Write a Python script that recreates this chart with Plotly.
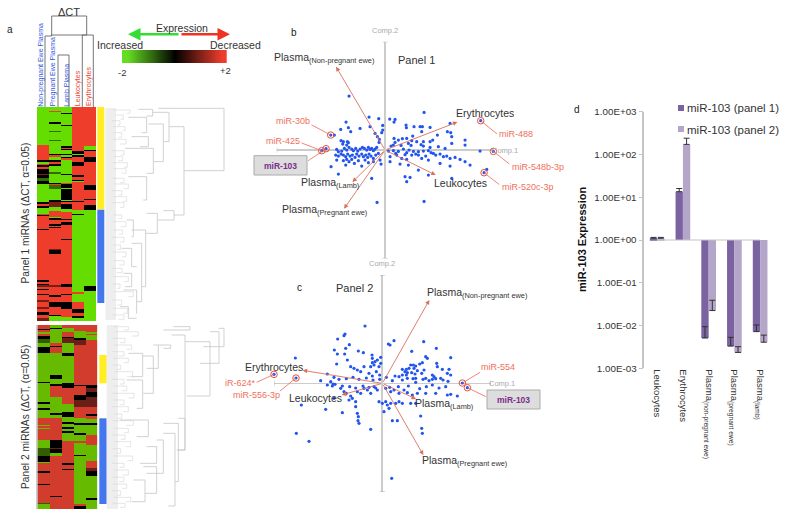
import numpy as np
import plotly.graph_objects as go

W, H = 785, 517

# ---------- data: heat maps (row where a run starts, value) ----------
heat_samples = ['Non-pregnant Ewe Plasma', 'Pregnant Ewe Plasma', 'Lamb Plasma', 'Leukocytes', 'Erythrocytes']
heat1_rows = 642
heat1_cols = [
    [(0,-2),(115,2),(160,0),(164,-2),(170,2),(175,0),(180,2),(186,0),(200,1),(205,0),(214,-1),(222,0),(230,-2),(285,0),(291,2),(296,0),(302,-2),(320,2),(323,0),(326,2),(366,0),(369,2),
     (520,0),(526,2),(530,0),(533,1),(540,2),(545,0),(550,2),(560,0),(564,2),(578,1),(584,2),(600,1),(606,2),(616,0),(624,2),(632,1)],
    [(0,-2),(12,2),(16,-2),(46,0),(50,-2),(72,-1),(74,-2),(80,-1),(82,-2),(92,-1),(94,-2),(100,-1),(102,-2),(140,0),(143,2),(150,-2),(160,0),(166,2),(170,0),(176,-2),(195,-1),(200,-2),(228,0),(232,2),(235,-1),(245,-2),(278,0),(285,1),(300,-2),(312,2),(330,-2),(334,0),(338,2),(352,0),(356,2),(360,0),(364,2),
     (425,1),(430,0),(440,2),(535,1),(540,2),(565,0),(570,2),(585,0),(600,2),(625,0),(628,-2)],
    [(0,-2),(18,0),(22,-2),(54,0),(57,-2),(118,0),(122,2),(126,0),(130,-2),(140,0),(144,-2),(150,0),(154,2),(160,-2),(200,0),(205,-2),(228,2),(232,0),(242,-2),(246,0),(280,-2),(282,0),(286,2),(290,0),(305,-2),(315,2),(335,0),(339,2),(345,0),(355,2),(395,0),(398,2),
     (530,0),(540,2),(560,0),(565,2),(585,0),(605,2),(630,-2)],
    [(0,2),(132,0),(140,-2),(143,0),(150,2),(165,0),(178,2),(205,0),(210,2),(218,0),(222,-2),(226,2),(282,0),(285,2),(310,-2),(320,0),(325,-2),
     (555,2),(560,-2),(585,2),(605,0),(618,2),(628,0),(634,-2)],
    [(0,2),(116,-2),(128,0),(132,2),(150,0),(165,2),(235,0),(248,2),(275,0),(280,2),(295,0),(308,-2),(538,0),(552,-2)],
]
heat2_rows = 553
heat2_cols = [
    [(0,2),(13,0),(16,2),(20,-2),(28,2),(34,0),(43,-1),(55,-2),(67,0),(85,-2),(170,0),(175,-2),(230,0),(237,-2),(250,0),(254,-2),(280,2),(300,-2),(304,2),(310,-2),(314,2),(345,-2),(370,-1),(395,0),(412,-2),(415,2),(440,0),(445,2),(477,0),(482,2),(535,-1),(538,-2)],
    [(0,-2),(8,0),(12,-2),(53,2),(62,0),(67,2),(85,-2),(150,0),(161,-2),(177,0),(183,2),(215,-2),(265,0),(270,-2),(280,2),(330,2),(345,0),(370,1),(374,0),(384,-2),(393,2),(513,0),(518,2)],
    [(0,2),(10,-2),(20,2),(36,0),(40,1),(53,-2),(85,0),(92,-2),(175,0),(188,2),(215,-2),(217,2),(237,-2),(262,0),(275,-2),(292,0),(298,-2),(308,0),(312,-2),(320,0),(325,-2),(350,2),(415,0),(420,2),(432,0),(436,2)],
    [(0,2),(17,-2),(40,0),(45,1),(60,2),(180,0),(184,2),(210,0),(225,1),(245,2),(280,-2),(295,0),(300,-2),(325,0),(330,-2),(350,2),(354,-2),(390,0),(395,-2),(538,2),(545,0)],
    [(0,2),(22,-2),(26,2),(30,-2),(45,2),(180,0),(190,1),(200,0),(215,1),(245,2),(268,0),(272,2),(283,-2),(295,0),(300,-2),(330,2),(360,-2),(410,2),(430,1),(440,0),(455,-2),(520,0),(525,-2)],
]
scale_steps = [-2, -1.6, -1.2, -0.8, -0.4, 0, 0.4, 0.8, 1.2, 1.6, 2]

# ---------- data: dendrograms (left top, y top, parent, y bottom, left bottom) ----------
tree1_main = [
    (475,325,672,512,552),(507,380,552,645,522),(458,337,507,425,490),(415,328,458,348,440),(445,372,490,485,460),
    (385,352,440,398,425),(375,445,460,520,440),(395,410,445,440,420),(385,530,440,600,430),(490,632,522,660,472),
    (440,640,472,700,437),(395,690,437,860,425),(395,730,425,905,410),(370,870,410,940,408),(360,920,385,955,410),
    (380,660,400,710,395),(365,745,395,800,410),(370,820,395,860,375),
]
tree1_leaf = [
    (340,330,390,340,380),(345,345,370,358,362),(335,362,360,375,352),(340,380,375,392,368),(338,398,365,412,355),
    (340,418,378,432,360),(335,452,372,465,362),(340,470,368,482,355),(338,488,382,502,372),(340,506,378,520,365),
    (338,535,372,548,360),(342,552,385,566,370),(335,572,366,585,355),(340,590,380,604,368),(338,608,372,622,360),
    (340,645,365,656,355),(338,665,378,680,362),(340,690,368,702,356),(336,712,372,726,360),(340,735,362,748,352),
    (338,756,378,770,366),(342,782,372,795,358),(336,805,366,818,350),(340,830,385,845,372),(338,852,360,865,350),
    (342,875,400,890,385),(336,900,365,915,352),(340,925,382,940,370),(338,945,372,958,355),
]
tree2_main = [
    (655,205,672,260,610),(630,215,657,310,600),(555,245,630,408,560),(490,210,570,200,520),(515,225,555,570,535),
    (475,255,512,265,490),(460,255,475,325,440),(428,288,460,400,430),(535,475,555,570,530),(490,490,535,665,525),
    (490,520,525,738,505),(470,540,490,640,440),(440,560,470,610,420),(430,620,470,700,435),(400,660,435,725,395),
    (360,480,445,530,410),(385,280,428,350,395),(380,360,428,445,410),
]
tree2_leaf = [
    (340,200,385,210,372),(345,215,415,228,395),(338,235,375,248,360),(342,255,395,268,380),(336,275,372,288,355),
    (340,295,385,308,372),(338,315,362,328,350),(342,335,398,350,382),(336,358,372,372,360),(340,378,380,392,366),
    (338,400,402,414,385),(340,420,372,434,360),(336,440,385,455,370),(342,462,365,475,352),(338,482,400,496,378),
    (340,505,385,518,372),(336,525,375,538,362),(342,545,392,560,378),(338,566,362,580,350),(340,588,398,602,382),
    (336,610,372,622,358),(342,630,385,645,368),(338,652,372,665,356),(340,672,380,685,366),(336,692,362,706,350),
    (342,712,392,725,378),(338,730,375,742,360),
]
col_tree = [(45,36,51.7,35,86.7), (58,55,62.7,55,69)]

# ---------- data: biplots ----------
b_load1 = [-147, 217, 152, -98, -123]
b_load2 = [250, 84, -75, -96, -176]
c_load1 = [141, -239, -122, 101, 123]
c_load2 = [250, 39, -35, -47, -215]

b_scores = [
    (-108,162),(-117,84),(-48,99),(-19,94),(14,93),(30,92),(27,84),(63,75),(64,67),(-7,74),(-7,60),(-10,52),(-133,62),(-110,67),(-103,55),
    (-75,65),(-45,70),(-30,50),(-23,40),(-17,32),(-18,23),(117,113),(27,35),(52,34),(65,35),(83,42),(87,70),(105,70),(112,70),(110,55),
    (135,68),(195,80),(187,55),(197,52),(200,40),(157,45),(143,30),(135,25),(115,25),(95,25),(80,28),(70,20),(30,23),(40,30),(25,15),
    (-132,28),(-125,25),(-113,25),(-127,18),(-115,15),(-110,22),(-152,45),(-145,2),(-140,-5),(-130,-3),(-122,5),(-115,0),(-108,8),(-100,3),
    (-95,-2),(-88,5),(-82,-3),(-75,3),(-68,8),(-62,5),(-55,0),(-50,8),(-45,2),(-40,5),(-35,-2),(-30,3),(-25,8),(-148,-15),(-140,-18),
    (-132,-12),(-125,-15),(-118,-20),(-112,-12),(-105,-18),(-98,-15),(-90,-22),(-85,-12),(-78,-18),(-70,-12),(-65,-20),(-58,-15),(-52,-22),
    (-48,-12),(-42,-18),(-35,-25),(-28,-15),(-20,-10),(-15,-30),(-145,-30),(-125,-32),(-115,-28),(-108,-35),(-100,-28),(-92,-40),(-80,-32),
    (-60,-30),(-50,-38),(-35,-35),(-12,-42),(-162,-50),(-140,-72),(-118,-45),(-70,-48),(-40,-85),(-24,-157),(10,-3),(18,12),(25,-2),(32,-10),
    (40,-4),(48,14),(55,3),(60,-14),(65,-8),(72,0),(78,14),(85,-4),(92,-12),(100,-5),(108,16),(115,-3),(122,-18),(130,-2),(138,-8),(145,-10),
    (152,-15),(165,-12),(175,-20),(185,-18),(195,-25),(210,-22),(225,-28),(240,-35),(255,-45),(15,-20),(35,-15),(50,-25),(65,-28),(80,-15),
    (100,-15),(110,-25),(130,-30),(165,-40),(195,-48),(60,-80),(65,-95),(75,-82),(100,-60),(130,-75),(200,-85),(240,15),(285,-3),(117,-154),
    (305,-58),(70,-45),(45,-42),(15,-35),(240,30),(200,20),(160,10),(180,5),(135,8),(115,12),
]
c_scores = [
    (-52,172),(-134,133),(-112,148),(-115,143),(-144,100),(-135,88),(-113,88),(-99,116),(-110,105),(-261,76),(-72,97),(-57,92),(-31,85),
    (-5,78),(18,118),(23,115),(35,128),(124,125),(162,105),(88,96),(130,80),(135,75),(205,77),(163,60),(165,50),(120,62),(93,55),(85,55),
    (100,52),(112,58),(95,45),(105,38),(80,45),(72,42),(60,42),(68,35),(75,32),(88,32),(98,28),(118,30),(125,40),(150,25),(155,20),(180,42),
    (200,42),(195,30),(205,25),(-30,62),(-22,65),(-35,50),(-25,55),(-10,50),(-5,60),(-15,70),(-30,75),(-137,58),(-105,70),(-95,50),(-85,45),
    (-75,40),(-65,35),(-55,50),(-40,30),(-30,22),(-18,35),(-8,25),(-165,28),(-185,8),(-145,18),(-165,-5),(-155,5),(-150,-8),(-148,-2),
    (-142,-3),(-130,12),(-120,-8),(-108,14),(-98,-10),(-88,18),(-80,-14),(-70,12),(-58,-8),(-48,16),(-40,-12),(-28,10),(-20,-14),(-8,12),(-125,-15),
    (-115,-25),(-108,-30),(-95,-38),(-90,-45),(-75,-25),(-65,-30),(-55,-15),(-45,-20),(-35,-30),(-25,-10),(-15,-20),(-170,-78),(-145,-45),
    (-120,-88),(-100,-50),(-80,-55),(-80,-70),(-75,-90),(-72,-100),(-73,-112),(-70,-120),(-243,-65),(-258,-150),(-220,-174),(-35,-138),
    (12,18),(22,-12),(30,8),(38,22),(48,-10),(60,10),(72,25),(78,-8),(92,14),(100,3),(112,-16),(122,12),(132,-10),(140,8),(150,-5),(160,14),(170,-14),
    (182,10),(190,-10),(197,6),(50,20),(60,25),(75,15),(100,15),(130,15),(150,12),(175,15),(10,-15),(25,-25),(35,-20),(50,-30),(65,-20),
    (75,-28),(90,-35),(105,-30),(130,-30),(160,-30),(195,-35),(205,-33),(225,-38),(115,-98),(118,-135),(120,-150),(28,-285),(-10,-55),
    (0,-60),(10,-55),(15,-65),(20,-75),(5,-85),(30,-112),(45,-112),(25,-60),(40,-60),(50,-55),(60,-60),(85,-60),(100,-60),
]
# miRNA: score 1, score 2, far end of the leader line
b_mirs = [(-163,45,-225,78),(-190,-2,-255,23),(-177,4,-235,-35),(287,88,340,45),(325,-4,377,-45),(297,-68,347,-107)]
c_mirs = [(-325,27,-382,1),(-259,16,-312,-27),(240,1,298,36),(255,-13,315,-42)]

# ---------- data: bars ----------
bar_cats = ['Leukocytes', 'Erythrocytes', 'Plasma<sub>(non-pregnant ewe)</sub>', 'Plasma<sub>(pregnant ewe)</sub>', 'Plasma<sub>(lamb)</sub>']
panel1_vals = [1.1, 13.5, 0.0051, 0.0033, 0.0072]
panel1_errs = [0.05, 2.5, 0.0043, 0.0020, 0.0031]
panel2_vals = [1.1, 172, 0.0224, 0.00235, 0.00407]
panel2_errs = [0.05, 68, 0.0166, 0.00085, 0.0019]
bar_ticks = [1000, 100, 10, 1, 0.1, 0.01, 0.001]
bar_tick_text = ['1.00E+03', '1.00E+02', '1.00E+01', '1.00E+00', '1.00E-01', '1.00E-02', '1.00E-03']

# ---------- helpers ----------
annotations, shapes = [], []
layout_axes = {}


def px(x):
    return x / W


def py(y):
    return 1 - y / H


def add_axes(n, x0, x1, y0, y1, xkw=None, ykw=None):
    hidden = dict(visible=False, fixedrange=True)
    suffix = '' if n == 1 else str(n)
    layout_axes['xaxis' + suffix] = dict(domain=[px(x0), px(x1)], anchor='y' + suffix, **{**hidden, **(xkw or {})})
    layout_axes['yaxis' + suffix] = dict(domain=[py(y1), py(y0)], anchor='x' + suffix, **{**hidden, **(ykw or {})})
    return 'x' + suffix, 'y' + suffix


def label(text, x, y, size=10.5, color='#333333', xanchor='left', angle=0, yanchor='middle'):
    annotations.append(dict(text=text, x=px(x), y=py(y), xref='paper', yref='paper', showarrow=False,
                            font=dict(size=size, color=color), xanchor=xanchor, yanchor=yanchor,
                            textangle=angle, borderpad=0, borderwidth=0))


def rect(x0, y0, x1, y1, fill, line=None):
    shapes.append(dict(type='rect', xref='paper', yref='paper', x0=px(x0), x1=px(x1), y0=py(y0), y1=py(y1),
                       fillcolor=fill, line=dict(color=line or fill, width=1 if line else 0), layer='below'))


def expand(runs, n):
    col = np.zeros(n)
    for start, value in runs:
        col[start:] = value
    return col


def bracket_path(brackets):
    xs, ys = [], []
    for xa, ya, xp, yb, xb in brackets:
        xs += [xa, xp, xp, xb, None]
        ys += [ya, ya, yb, yb, None]
    return xs, ys


fig = go.Figure()

# ---------- panel a heat maps ----------
x1, y1 = add_axes(1, 37, 96, 107, 321, ykw=dict(autorange='reversed'))
fig.add_trace(go.Heatmap(z=np.column_stack([expand(c, heat1_rows) for c in heat1_cols]), x=heat_samples,
                         zmin=-2, zmax=2, showscale=False, xaxis=x1, yaxis=y1,
                         colorscale=[[0, '#66dd00'], [0.5, '#000000'], [1, '#ee3d2b']]))
x2, y2 = add_axes(2, 37.5, 97.3, 325, 509.3, ykw=dict(autorange='reversed'))
fig.add_trace(go.Heatmap(z=np.column_stack([expand(c, heat2_rows) for c in heat2_cols]), x=heat_samples,
                         zmin=-2, zmax=2, showscale=False, xaxis=x2, yaxis=y2,
                         colorscale=[[0, '#66bb00'], [0.5, '#000000'], [1, '#d23c2c']]))
rect(36, 325, 38, 509.3, '#cccccc')
rect(97.3, 107, 104.3, 209.3, '#ffee22')
rect(97.3, 209.7, 104.3, 303, '#4477ee')
rect(99.3, 355, 106.7, 383.3, '#ffee22')
rect(99.3, 418.3, 106.7, 504, '#4477ee')

# row dendrograms, in the units of their own axes
rect(105.5, 108, 116, 320, '#eeeeee')
rect(106.7, 325, 118, 509, '#eeeeee')
x3, y3 = add_axes(3, 100, 226.67, 105, 325, xkw=dict(range=[300, 680]), ykw=dict(range=[975, 315]))
for tree, width, color in [(tree1_leaf, 0.6, '#d5d5d5'), (tree1_main, 0.9, '#cccccc')]:
    xs, ys = bracket_path(tree)
    fig.add_trace(go.Scatter(x=xs, y=ys, mode='lines', line=dict(color=color, width=width), xaxis=x3, yaxis=y3))
x4, y4 = add_axes(4, 100, 226.67, 323, 513, xkw=dict(range=[300, 680]), ykw=dict(range=[759, 189]))
for tree, width, color in [(tree2_leaf, 0.6, '#d5d5d5'), (tree2_main, 0.9, '#cccccc')]:
    xs, ys = bracket_path(tree)
    fig.add_trace(go.Scatter(x=xs, y=ys, mode='lines', line=dict(color=color, width=width), xaxis=x4, yaxis=y4))

# column dendrogram
x5, y5 = add_axes(5, 37, 96, 10, 107, xkw=dict(range=[37, 96]), ykw=dict(range=[107, 10]))
col_xs, col_ys = bracket_path(col_tree)
col_xs += [45, 45, None, 58, 58, None, 69, 69, None, 82.3, 82.3, 93.3, 93.3, None, 51.7, 51.7, 86.7, 86.7]
col_ys += [36, 107, None, 55, 107, None, 55, 107, None, 107, 35, 35, 107, None, 36, 16, 16, 35]
fig.add_trace(go.Scatter(x=col_xs, y=col_ys, mode='lines', line=dict(color='#666666', width=0.9), xaxis=x5, yaxis=y5))

label('a', 10, 29, size=10, color='#222222', xanchor='center')
label('ΔCT', 69, 11.7, size=11, xanchor='center')
for name, xc, color in [('Non-pregnant Ewe Plasma', 40.3, '#3355dd'), ('Pregnant Ewe Plasma', 53.3, '#3355dd'),
                        ('Lamb Plasma', 65.7, '#3355dd'), ('Leukocytes', 77.7, '#ee4433'), ('Erythrocytes', 89, '#ee4433')]:
    label(name, xc, 106.5, size=7, color=color, xanchor='center', yanchor='bottom', angle=-90)
label('Panel 1 miRNAs (ΔCT, α=0.05)', 25, 213.5, size=10.2, xanchor='center', angle=-90)
label('Panel 2 miRNAs (ΔCT, (α=0.05)', 25, 417, size=10.2, xanchor='center', angle=-90)

# expression key
x6, y6 = add_axes(6, 122, 226.7, 50, 63.3)
fig.add_trace(go.Heatmap(z=[scale_steps], zmin=-2, zmax=2, zsmooth='best', showscale=False, xaxis=x6, yaxis=y6,
                         colorscale=[[0, '#66dd22'], [0.5, '#000000'], [1, '#ee3d2b']]))
for x_end, tail, color in [(128, 52, '#33dd33'), (230, -50, '#ee3322')]:
    annotations.append(dict(x=px(x_end), y=py(34.3), xref='paper', yref='paper', ax=tail, ay=0, text='',
                            showarrow=True, arrowhead=2, arrowsize=1, arrowwidth=2.5, arrowcolor=color))
label('Expression', 182, 27.5, size=10.5, xanchor='center')
label('Increased', 120, 45, size=10.5, xanchor='center')
label('Decreased', 235, 45, size=10.5, xanchor='center')
label('-2', 121.7, 72.3, size=9.5, xanchor='center')
label('+2', 225, 70, size=9.5, xanchor='center')


# ---------- panels b and c ----------
def biplot(n, x0, y0, scores, load1, load2, mirs):
    xa, ya = add_axes(n, x0, x0 + 216.7, y0, y0 + 216.7,
                      xkw=dict(visible=True, range=[-325, 325], showgrid=False, showticklabels=False, ticks='',
                               zeroline=True, zerolinecolor='#cccccc', zerolinewidth=1.5),
                      ykw=dict(visible=True, range=[-325, 325], showgrid=False, showticklabels=False, ticks='',
                               zeroline=True, zerolinecolor='#cccccc', zerolinewidth=2 if n == 7 else 1.2))
    ends_x = [-325, -325, None, 325, 325, None, -8, 8, None, -8, 8]
    ends_y = [-8, 8, None, -8, 8, None, 325, 325, None, -325, -325]
    fig.add_trace(go.Scatter(x=ends_x, y=ends_y, mode='lines', line=dict(color='#aaaaaa', width=0.8),
                             xaxis=xa, yaxis=ya, cliponaxis=False))
    for a, b in zip(load1, load2):
        annotations.append(dict(x=a, y=b, xref=xa, yref=ya, axref=xa, ayref=ya, ax=0, ay=0, text='', showarrow=True,
                                arrowhead=2, arrowsize=1, arrowwidth=0.9, arrowcolor='#d8705c'))
    for s1, s2, end1, end2 in mirs:
        annotations.append(dict(x=s1, y=s2, xref=xa, yref=ya, axref=xa, ayref=ya, ax=end1, ay=end2, text='',
                                showarrow=True, arrowhead=0, arrowwidth=0.8, arrowcolor='#ee6655'))
    fig.add_trace(go.Scatter(x=[s[0] for s in scores], y=[s[1] for s in scores], mode='markers',
                             marker=dict(size=3.2, color='#2255ee'), xaxis=xa, yaxis=ya, cliponaxis=False))
    fig.add_trace(go.Scatter(x=[m[0] for m in mirs], y=[m[1] for m in mirs], mode='markers',
                             marker=dict(size=3.2, color='#2255ee', line=dict(width=0)), xaxis=xa, yaxis=ya, cliponaxis=False))
    fig.add_trace(go.Scatter(x=[m[0] for m in mirs], y=[m[1] for m in mirs], mode='markers',
                             marker=dict(size=6.5, symbol='circle-open', color='#e8503c', line=dict(width=1, color='#e8503c')),
                             xaxis=xa, yaxis=ya, cliponaxis=False))


biplot(7, 276.7, 41.7, b_scores, b_load1, b_load2, b_mirs)
biplot(8, 274, 275, c_scores, c_load1, c_load2, c_mirs)

mir_red = '#f0705a'
rect(254, 155.7, 307, 175, '#dddddd', '#aaaaaa')
rect(487, 390, 540, 409, '#dddddd', '#aaaaaa')
label('b', 294, 33, size=10, color='#222222', xanchor='center')
label('Panel 1', 397.7, 60, size=11)
label('Plasma<sub>(Non-pregnant ewe)</sub>', 274, 58)
label('Erythrocytes', 456, 113)
label('Leukocytes', 434, 183)
label('Plasma<sub>(Lamb)</sub>', 301, 183)
label('Plasma<sub>(Pregnant ewe)</sub>', 281.7, 210)
label('miR-30b', 276, 121, size=9, color=mir_red)
label('miR-425', 265.7, 141, size=9, color=mir_red)
label('<b>miR-103</b>', 280.5, 165.5, size=8.5, color='#7b2d8b', xanchor='center')
label('miR-488', 499, 133.7, size=9, color=mir_red)
label('miR-548b-3p', 511.7, 166.7, size=9, color=mir_red)
label('miR-520c-3p', 501.7, 187, size=9, color=mir_red)
label('Comp.1', 491.7, 150, size=7.5, color='#aaaaaa')
label('Comp.2', 384.7, 30.7, size=7.5, color='#aaaaaa', xanchor='center')

label('c', 299, 287.7, size=10, color='#222222', xanchor='center')
label('Panel 2', 335.7, 288, size=11)
label('Plasma<sub>(Non-pregnant ewe)</sub>', 427, 293)
label('Erythrocytes', 244.7, 366.7)
label('Leukocytes', 289, 398)
label('Plasma<sub>(Lamb)</sub>', 415, 404)
label('Plasma<sub>(Pregnant ewe)</sub>', 422, 460.7)
label('iR-624*', 225, 383, size=9, color=mir_red)
label('miR-556-3p', 232.7, 395, size=9, color=mir_red)
label('miR-554', 480.7, 367, size=9, color=mir_red)
label('<b>miR-103</b>', 513.5, 400, size=8.5, color='#7b2d8b', xanchor='center')
label('Comp.1', 489, 383, size=7.5, color='#aaaaaa')
label('Comp.2', 382, 263.7, size=7.5, color='#aaaaaa', xanchor='center')

# ---------- panel d ----------
x9, y9 = add_axes(
    9, 644.3, 773, 111.7, 368.3,
    xkw=dict(visible=True, type='category', range=[-0.5, 4.5], showline=False, showgrid=False, ticks='',
             tickangle=90, tickfont=dict(size=9.5, color='#333333')),
    ykw=dict(visible=True, type='log', range=[-3, 3], showline=True, linecolor='#c4c4c4', linewidth=1.5, showgrid=False,
             ticks='outside', ticklen=4, tickcolor='#c4c4c4', tickvals=bar_ticks, ticktext=bar_tick_text,
             tickfont=dict(size=9.8, color='#333333')))

for name, vals, errs, color in [('miR-103 (panel 1)', panel1_vals, panel1_errs, '#7b62a0'),
                                ('miR-103 (panel 2)', panel2_vals, panel2_errs, '#b3a6c8')]:
    fig.add_trace(go.Bar(x=bar_cats, y=[v - 1 for v in vals], base=[1] * len(vals), name=name,
                         marker=dict(color=color, line=dict(width=0)), xaxis=x9, yaxis=y9,
                         error_y=dict(type='data', symmetric=False, array=errs, arrayminus=[0] * len(errs),
                                      color='#333333', thickness=1, width=3)))
fig.add_trace(go.Scatter(x=[bar_cats[0], bar_cats[-1]], y=[1, 1], mode='lines', line=dict(color='#c4c4c4', width=1),
                         xaxis=x9, yaxis=y9))
label('d', 576.7, 110, size=10, color='#222222', xanchor='center')
label('<b>miR-103 Expression</b>', 582, 240, size=11, color='#111111', xanchor='center', angle=-90)
rect(678, 105, 684, 111, '#7b62a0')
rect(678, 126, 684, 132, '#b3a6c8')
label('miR-103 (panel 1)', 687, 108.5, size=11.5)
label('miR-103 (panel 2)', 687, 129.5, size=11.5)

fig.update_layout(
    width=W, height=H, margin=dict(l=0, r=0, t=0, b=0, autoexpand=False), paper_bgcolor='white',
    plot_bgcolor='rgba(0,0,0,0)', font=dict(family='Liberation Sans, Arial, sans-serif', color='#333333'),
    barmode='group', bargap=0.43, bargroupgap=0, hovermode=False, showlegend=False,
    annotations=annotations, shapes=shapes, **layout_axes)

fig.write_html("out.html", config=dict(displayModeBar=False), post_script="document.body.style.margin='0';window.dispatchEvent(new Event('resize'));")
